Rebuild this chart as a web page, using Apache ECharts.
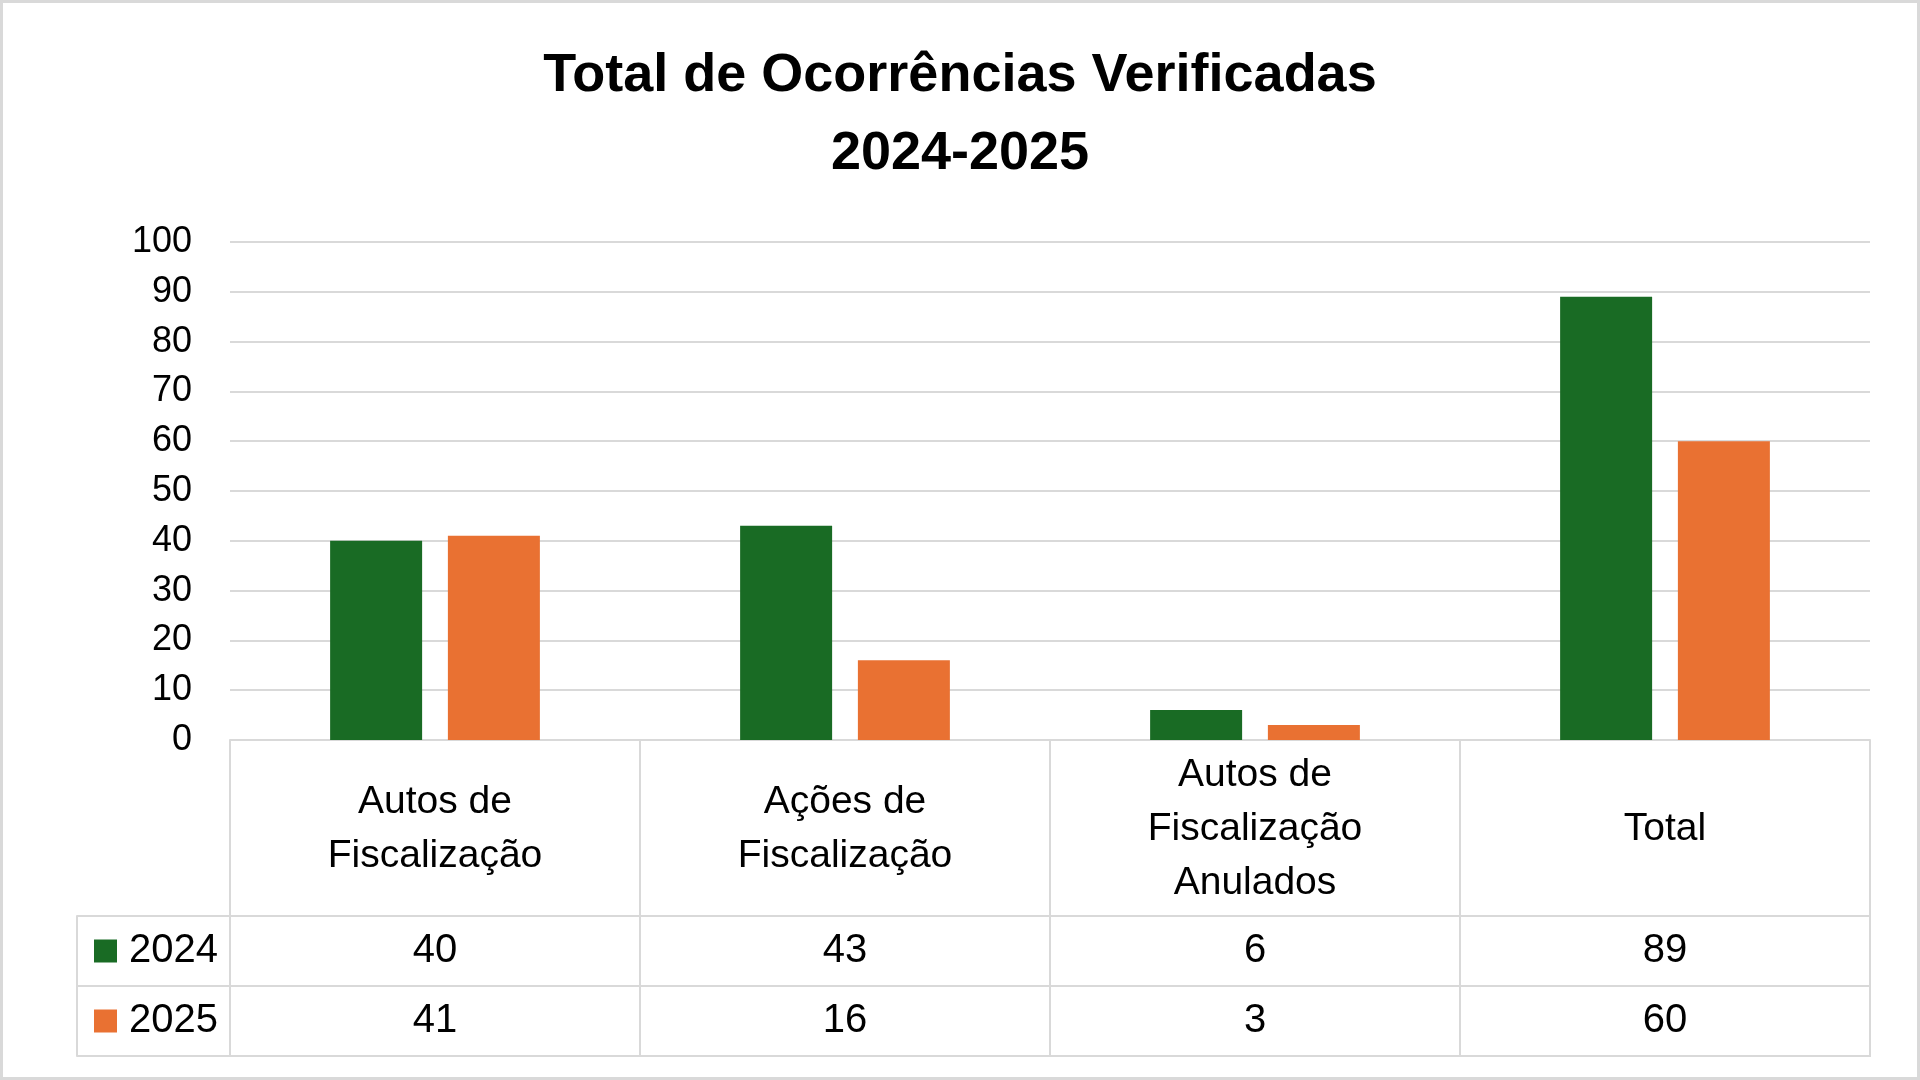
<!DOCTYPE html>
<html>
<head>
<meta charset="utf-8">
<script src="https://cdn.jsdelivr.net/npm/echarts@6/dist/echarts.min.js"></script>
<style>
  html, body { margin: 0; padding: 0; background: #fff; }
  #chart { width: 1920px; height: 1080px; }
</style>
</head>
<body>
<div id="chart"></div>
<script>
const categories = ['Autos de\nFiscalização', 'Ações de\nFiscalização', 'Autos de\nFiscalização\nAnulados', 'Total']
const years = ['2024', '2025']
const values2024 = [40, 43, 6, 89]
const values2025 = [41, 16, 3, 60]
const yTicks = { min: 0, max: 100, step: 10 }

const colors = ['#196B24', '#E97132']
const gridColor = '#D9D9D9'
const fontNum = "'Liberation Sans', Arial, sans-serif"

// cells of the data table: [column, row, value]
const tableCells = []
;[values2024, values2025].forEach((arr, r) => {
  arr.forEach((v, c) => tableCells.push([c, r, v]))
})

const chart = echarts.init(document.getElementById('chart'))

const option = {
  backgroundColor: '#fff',
  title: {
    text: 'Total de Ocorrências Verificadas\n2024-2025',
    left: 'center',
    top: 32,
    textStyle: {
      fontFamily: fontNum,
      fontWeight: 'bold',
      fontSize: 54,
      lineHeight: 78,
      color: '#000'
    }
  },
  graphic: [{
    type: 'rect',
    shape: { x: 1.5, y: 1.5, width: 1917, height: 1077 },
    style: { fill: 'none', stroke: gridColor, lineWidth: 3 },
    silent: true
  }],
  grid: [
    { left: 230, right: 50, top: 242, height: 498 },
    { left: 230, right: 50, top: 916, height: 140, show: true, borderColor: gridColor, borderWidth: 2 }
  ],
  xAxis: [{
    type: 'category',
    gridIndex: 0,
    data: categories,
    axisLine: { show: true, lineStyle: { color: gridColor, width: 2 } },
    axisTick: { show: true, interval: 0, length: 176, lineStyle: { color: gridColor, width: 2 } },
    axisLabel: {
      interval: 0,
      margin: 89,
      verticalAlign: 'middle',
      fontFamily: fontNum,
      fontSize: 39,
      lineHeight: 54,
      color: '#000'
    }
  }, {
    type: 'category',
    gridIndex: 1,
    data: categories,
    axisLine: { show: false },
    axisTick: { show: false },
    axisLabel: { show: false },
    splitLine: { show: true, interval: 0, lineStyle: { color: gridColor, width: 2 } }
  }],
  yAxis: [{
    type: 'value',
    gridIndex: 0,
    min: yTicks.min,
    max: yTicks.max,
    interval: yTicks.step,
    axisLine: { show: false },
    axisTick: { show: false },
    splitLine: { lineStyle: { color: gridColor, width: 2 } },
    axisLabel: { margin: 38, fontFamily: fontNum, fontSize: 36, color: '#000', padding: [4, 0, 0, 0] }
  }, {
    type: 'category',
    gridIndex: 1,
    data: years,
    inverse: true,
    axisLine: { show: false },
    axisTick: { show: true, interval: 0, length: 153, lineStyle: { color: gridColor, width: 2 } },
    splitLine: { show: true, interval: 0, lineStyle: { color: gridColor, width: 2 } },
    axisLabel: {
      margin: 12,
      formatter: (v, i) => '{s' + i + '|}{g|}{t|' + v + '}',
      rich: {
        s0: { backgroundColor: colors[0], width: 23, height: 23 },
        s1: { backgroundColor: colors[1], width: 23, height: 23 },
        g: { width: 12 },
        t: { fontFamily: fontNum, fontSize: 40, color: '#000' }
      }
    }
  }, {
    type: 'category',
    gridIndex: 1,
    data: years,
    position: 'left',
    offset: 153,
    axisLine: { show: true, lineStyle: { color: gridColor, width: 2 } },
    axisTick: { show: false },
    axisLabel: { show: false },
    splitLine: { show: false }
  }],
  series: [{
    name: years[0],
    type: 'bar',
    xAxisIndex: 0,
    yAxisIndex: 0,
    data: values2024,
    barWidth: 92,
    barGap: '28%',
    itemStyle: { color: colors[0] }
  }, {
    name: years[1],
    type: 'bar',
    xAxisIndex: 0,
    yAxisIndex: 0,
    data: values2025,
    barWidth: 92,
    barGap: '28%',
    itemStyle: { color: colors[1] }
  }, {
    type: 'scatter',
    xAxisIndex: 1,
    yAxisIndex: 1,
    data: tableCells,
    symbolSize: 1,
    itemStyle: { color: 'rgba(255,255,255,0)', opacity: 1 },
    label: {
      show: true,
      position: 'inside',
      formatter: p => p.value[2],
      fontFamily: fontNum,
      fontSize: 40,
      color: '#000',
      opacity: 1
    },
    silent: true
  }]
}

chart.setOption(option)
</script>
</body>
</html>
